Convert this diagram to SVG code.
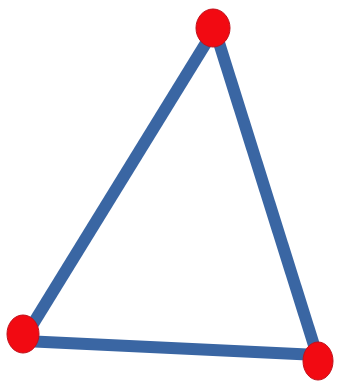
<svg xmlns="http://www.w3.org/2000/svg" width="337" height="384" viewBox="0 0 337 384">
<style>
.edge{stroke:#3a66a3;stroke-width:12;stroke-linecap:butt;fill:none}
.node{fill:#f20a12;stroke:#c0101a;stroke-width:1}
</style>
<rect width="337" height="384" fill="#ffffff"/>
<g id="connectors">
<line class="edge" x1="214" y1="30" x2="28" y2="332"/>
<line class="edge" x1="215" y1="30" x2="318" y2="358"/>
<line class="edge" x1="24" y1="341" x2="318" y2="355"/>
</g>
<g id="n1"><ellipse class="node" cx="213" cy="28" rx="17" ry="19"/></g>
<g id="n2"><ellipse class="node" cx="23" cy="334" rx="16" ry="19"/></g>
<g id="n3"><ellipse class="node" cx="318" cy="361" rx="15" ry="19"/></g>
</svg>
